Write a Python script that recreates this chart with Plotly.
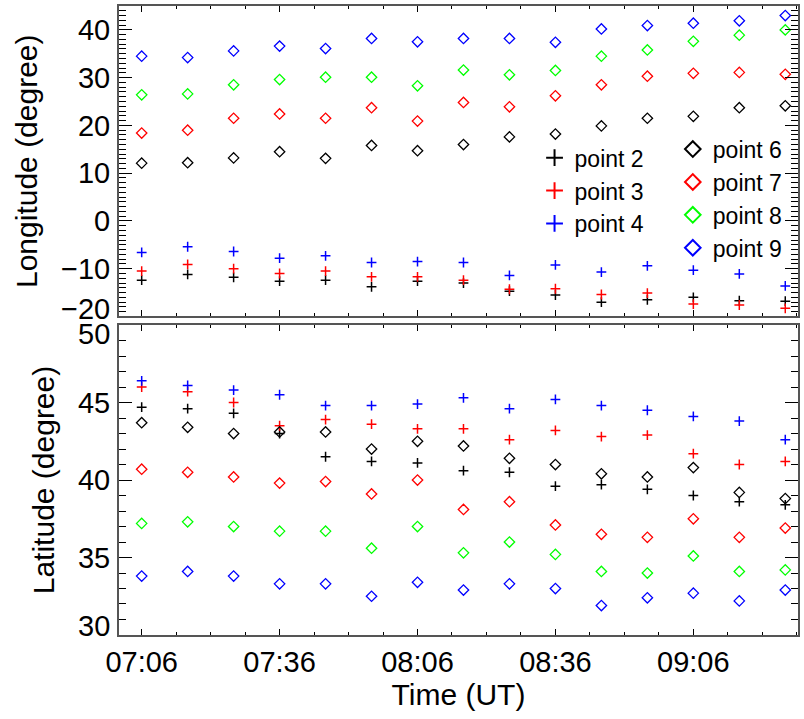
import plotly.graph_objects as go

# ---------------- data ----------------
times = ["07:06", "07:16", "07:26", "07:36", "07:46", "07:56", "08:06", "08:16",
         "08:26", "08:36", "08:46", "08:56", "09:06", "09:16", "09:26"]
tick_labels = ["07:06", "07:36", "08:06", "08:36", "09:06"]
DAY = "2012-01-01 "

lon_ticks = [-20, -10, 0, 10, 20, 30, 40]
lat_ticks = [30, 35, 40, 45, 50]

# Longitude (degree)
lon_p2 = [-12.4, -11.2, -11.8, -12.6, -12.4, -13.8, -12.6, -13.0, -14.7, -15.5, -17.0, -16.5, -16.0, -16.7, -16.8]
lon_p3 = [-10.5, -9.1, -10.0, -11.0, -10.5, -11.7, -11.7, -12.4, -14.3, -14.2, -15.4, -15.1, -17.4, -17.6, -18.3]
lon_p4 = [-6.6, -5.4, -6.4, -7.8, -7.3, -8.7, -8.5, -8.7, -11.4, -9.2, -10.7, -9.4, -10.3, -11.1, -13.6]
lon_p6 = [12.1, 12.2, 13.2, 14.5, 13.1, 15.8, 14.7, 16.0, 17.6, 18.2, 19.9, 21.5, 21.9, 23.7, 24.1]
lon_p7 = [18.4, 19.0, 21.5, 22.4, 21.5, 23.7, 20.9, 24.8, 23.9, 26.2, 28.5, 30.3, 30.9, 31.1, 30.7]
lon_p8 = [26.4, 26.6, 28.5, 29.6, 30.1, 30.1, 28.3, 31.6, 30.6, 31.5, 34.5, 35.8, 37.6, 38.9, 40.0]
lon_p9 = [34.5, 34.2, 35.6, 36.6, 36.1, 38.2, 37.5, 38.2, 38.2, 37.4, 40.2, 40.9, 41.4, 41.9, 43.0]

# Latitude (degree)
lat_p2 = [44.7, 44.6, 44.3, 43.0, 41.5, 41.2, 41.1, 40.6, 40.5, 39.6, 39.7, 39.4, 39.0, 38.6, 38.4]
lat_p3 = [46.0, 45.7, 45.0, 43.5, 43.9, 43.6, 43.3, 43.3, 42.6, 43.2, 42.8, 42.9, 41.7, 41.0, 41.2]
lat_p4 = [46.4, 46.1, 45.8, 45.5, 44.8, 44.8, 44.9, 45.3, 44.6, 45.2, 44.8, 44.5, 44.1, 43.8, 42.6]
lat_p6 = [43.7, 43.4, 43.0, 43.1, 43.1, 42.0, 42.5, 42.2, 41.4, 41.0, 40.4, 40.2, 40.8, 39.2, 38.8]
lat_p7 = [40.7, 40.5, 40.2, 39.8, 39.9, 39.1, 40.0, 38.1, 38.6, 37.1, 36.5, 36.3, 37.5, 36.3, 36.9]
lat_p8 = [37.2, 37.3, 37.0, 36.7, 36.7, 35.6, 37.0, 35.3, 36.0, 35.2, 34.1, 34.0, 35.1, 34.1, 34.2]
lat_p9 = [33.8, 34.1, 33.8, 33.3, 33.3, 32.5, 33.4, 32.9, 33.3, 33.0, 31.9, 32.4, 32.7, 32.2, 32.9]

names = ["point 2", "point 3", "point 4", "point 6", "point 7", "point 8", "point 9"]
colors = ["#000000", "#ff0000", "#0000ff", "#000000", "#ff0000", "#00ff00", "#0000ff"]
symbols = ["cross-thin-open"] * 3 + ["diamond-open"] * 4
lon_series = [lon_p2, lon_p3, lon_p4, lon_p6, lon_p7, lon_p8, lon_p9]
lat_series = [lat_p2, lat_p3, lat_p4, lat_p6, lat_p7, lat_p8, lat_p9]

# ---------------- figure ----------------
x = [DAY + t for t in times]
FONT = "Liberation Sans, Arial, Helvetica, sans-serif"
TICKFONT = dict(size=29, color="black", family=FONT)
TITLEFONT = dict(size=30, color="black", family=FONT)

fig = go.Figure()
for i, name in enumerate(names):
    is_plus = symbols[i].startswith("cross")
    fig.add_trace(go.Scatter(
        x=x, y=lon_series[i], mode="markers", name=name,
        legend="legend" if i < 3 else "legend2",
        marker=dict(symbol=symbols[i], size=7 if is_plus else 8, color=colors[i],
                    line=dict(color=colors[i], width=1.5 if is_plus else 1.3)),
        xaxis="x", yaxis="y", showlegend=True))
for i, name in enumerate(names):
    is_plus = symbols[i].startswith("cross")
    fig.add_trace(go.Scatter(
        x=x, y=lat_series[i], mode="markers", name=name,
        marker=dict(symbol=symbols[i], size=7 if is_plus else 8, color=colors[i],
                    line=dict(color=colors[i], width=1.5 if is_plus else 1.3)),
        xaxis="x2", yaxis="y2", showlegend=False))

x_range = [DAY + "07:01:04", DAY + "09:28:46"]
tickvals = [DAY + t for t in tick_labels]

common_x = dict(
    type="date", range=x_range, tickvals=tickvals, ticktext=tick_labels,
    ticks="inside", ticklen=6, tickwidth=1, tickcolor="black",
    minor=dict(ticks="inside", ticklen=3, tickwidth=1, tickcolor="black",
               dtick=450000, tick0=DAY + "07:06", showgrid=False),
    showline=True, linecolor="#555555", linewidth=2, mirror="allticks",
    showgrid=False, zeroline=False, automargin=False,
)
common_y = dict(
    ticks="inside", ticklen=13, tickwidth=1, tickcolor="black",
    showline=True, linecolor="#555555", linewidth=2, mirror="allticks",
    showgrid=False, zeroline=False, tickfont=TICKFONT,
    ticklabelstandoff=1, automargin=False,
)
minor_y = dict(ticks="inside", ticklen=7, tickwidth=1, tickcolor="black",
               dtick=1, tick0=0, showgrid=False)


def fmt(v):
    return ("\u2212" + str(-v)) if v < 0 else str(v)


# end-of-axis labels, nudged inwards as in the original
end_labels = [("y", lon_ticks[0], 7), ("y2", lat_ticks[-1], -9), ("y2", lat_ticks[0], 9)]
annotations = [
    dict(text=fmt(v), xref="paper", x=0, yref=ax, y=v, xanchor="right",
         yanchor="middle", xshift=-7, yshift=shift, showarrow=False,
         font=TICKFONT)
    for ax, v, shift in end_labels
]

fig.update_layout(
    width=804, height=719,
    margin=dict(l=119, r=6, t=6, b=84),
    paper_bgcolor="white", plot_bgcolor="white",
    font=dict(family=FONT, color="black"),
    xaxis=dict(common_x, anchor="y", showticklabels=False, matches="x2"),
    xaxis2=dict(common_x, anchor="y2", showticklabels=True,
                tickfont=TICKFONT, ticklabelstandoff=0,
                title=dict(text="Time (UT)", font=TITLEFONT, standoff=4)),
    yaxis=dict(common_y, domain=[0.5064, 1.0], range=[-20, 45],
               tickvals=lon_ticks[1:], minor=minor_y,
               title=dict(text="Longitude (degree)", font=TITLEFONT, standoff=14)),
    yaxis2=dict(common_y, domain=[0.0, 0.4928], range=[30, 50],
                tickvals=lat_ticks[1:-1], minor=minor_y,
                title=dict(text="Latitude (degree)", font=TITLEFONT, standoff=14)),
    annotations=annotations,
    legend=dict(x=0.612, y=0.793, xanchor="left", yanchor="top",
                bgcolor="rgba(0,0,0,0)", borderwidth=0,
                font=dict(size=23, color="black", family=FONT),
                itemsizing="constant", tracegroupgap=0),
    legend2=dict(x=0.8156, y=0.8067, xanchor="left", yanchor="top",
                 bgcolor="rgba(0,0,0,0)", borderwidth=0,
                 font=dict(size=23, color="black", family=FONT),
                 itemsizing="constant", tracegroupgap=0),
)

fig.write_html("out.html", config={"displayModeBar": False},
               post_script="document.body.style.margin='0';")
